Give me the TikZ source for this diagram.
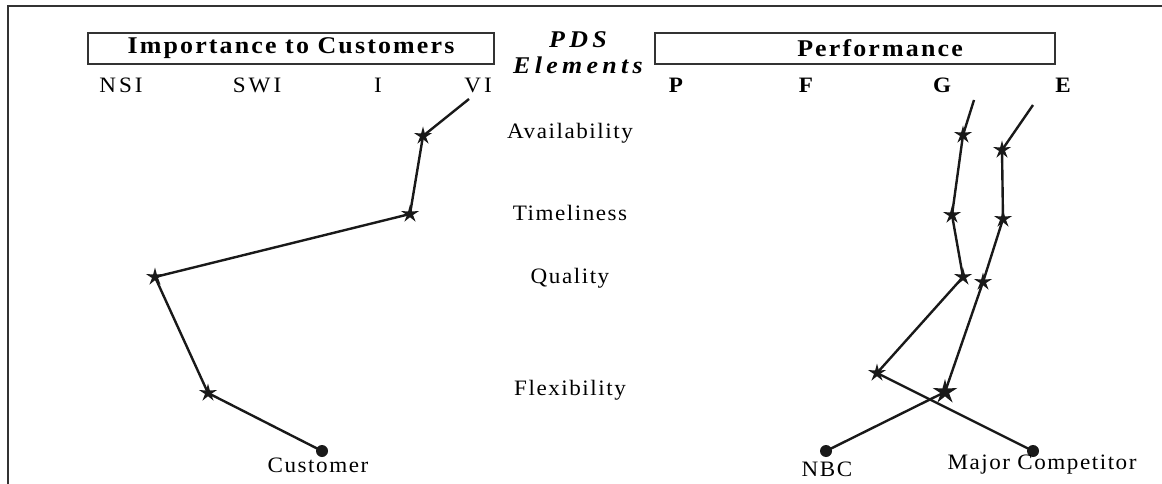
\documentclass[tikz,border=0pt]{standalone}
\usepackage{fontspec}
\setmainfont{Liberation Serif}
\newfontfamily\spacedfont{Liberation Serif}[LetterSpace=7, FakeStretch=1.05]
\newfontfamily\headfont{Liberation Serif}[LetterSpace=9, FakeStretch=1.08]
\usepackage{tikz}
\usetikzlibrary{shapes.geometric, positioning}

\begin{document}
\begin{tikzpicture}[
        x=1pt, y=-1pt,
        heading/.style={rectangle, draw=black!80, line width=1.2pt, minimum height=31pt, inner sep=0pt, font=\headfont\fontsize{24}{26}\selectfont\bfseries},
        scale_lbl/.style={font=\spacedfont\addfontfeature{LetterSpace=14}\fontsize{22}{24}\selectfont},
        grade_lbl/.style={font=\spacedfont\fontsize{22}{24}\selectfont\bfseries},
        element/.style={font=\spacedfont\fontsize{22}{24}\selectfont},
        series_lbl/.style={font=\spacedfont\fontsize{22}{24}\selectfont},
        rating/.style={star, star points=5, star point ratio=3, fill=black!90, inner sep=0pt, minimum size=19pt},
        endpoint/.style={circle, fill=black!90, inner sep=0pt, minimum size=12pt},
        profile/.style={line width=2.4pt, color=black!90}
    ]

    % Frame and bounding box
    \useasboundingbox (0,0) rectangle (1162,484);
    \draw[line width=1.2pt, black!80] (8,484) |- (1162,6);

    % Headers
    \node[heading, minimum width=406pt] (importance) at (291,48.5) {Importance to Customers};
    \node[heading, minimum width=400pt] (performance) at (855,48.5) {\hspace*{50pt}Performance};
    \node[align=center, font=\headfont\addfontfeature{LetterSpace=18}\fontsize{24}{26}\selectfont\bfseries\itshape] (pds) at (578,53) {PDS\\Elements};

    % Importance scale
    \node[scale_lbl] (nsi) at (121,85.5) {NSI};
    \node[scale_lbl] (swi) at (257,85.5) {SWI};
    \node[scale_lbl] (imp) at (378,85.5) {I};
    \node[scale_lbl] (vi) at (478,85.5) {VI};

    % Performance scale
    \node[grade_lbl] (poor) at (676,85.5) {P};
    \node[grade_lbl] (fair) at (806,85.5) {F};
    \node[grade_lbl] (good) at (942,85.5) {G};
    \node[grade_lbl] (excellent) at (1063,85.5) {E};

    % PDS elements
    \node[element] (availability) at (570,133) {Availability};
    \node[element] (timeliness) at (570,213) {Timeliness};
    \node[element] (quality) at (570,278) {Quality};
    \node[element] (flexibility) at (570,390) {Flexibility};

    % Customer profile
    \coordinate (cust_top) at (469,99);
    \node[rating] (cust_avail) at (423,136) {};
    \node[rating] (cust_time) at (410,214) {};
    \node[rating] (cust_qual) at (155,277) {};
    \node[rating] (cust_flex) at (208,393) {};
    \node[endpoint] (cust_end) at (322,451) {};
    \node[series_lbl] (customer) at (318,465) {Customer};

    % Major competitor profile
    \coordinate (mc_top) at (974,100);
    \node[rating] (mc_avail) at (963,135) {};
    \node[rating] (mc_time) at (952,215) {};
    \node[rating] (mc_qual) at (963,277) {};
    \node[rating] (mc_flex) at (877,373) {};
    \node[endpoint] (mc_end) at (1033,451) {};
    \node[series_lbl] (competitor) at (1042,465) {Major Competitor};

    % NBC profile
    \coordinate (nbc_top) at (1033,105);
    \node[rating] (nbc_avail) at (1002,150) {};
    \node[rating] (nbc_time) at (1003,219) {};
    \node[rating] (nbc_qual) at (983,282) {};
    \node[rating, minimum size=26pt] (nbc_flex) at (945,392) {};
    \node[endpoint] (nbc_end) at (826,451) {};
    \node[series_lbl] (nbc) at (827,469) {NBC};

    % Profile lines
    \draw[profile] (cust_top) -- (cust_avail.center) -- (cust_time.center) -- (cust_qual.center) -- (cust_flex.center) -- (cust_end.center);
    \draw[profile] (mc_top) -- (mc_avail.center) -- (mc_time.center) -- (mc_qual.center) -- (mc_flex.center) -- (mc_end.center);
    \draw[profile] (nbc_top) -- (nbc_avail.center) -- (nbc_time.center) -- (nbc_qual.center) -- (nbc_flex.center) -- (nbc_end.center);

    \end{tikzpicture}
\end{document}
